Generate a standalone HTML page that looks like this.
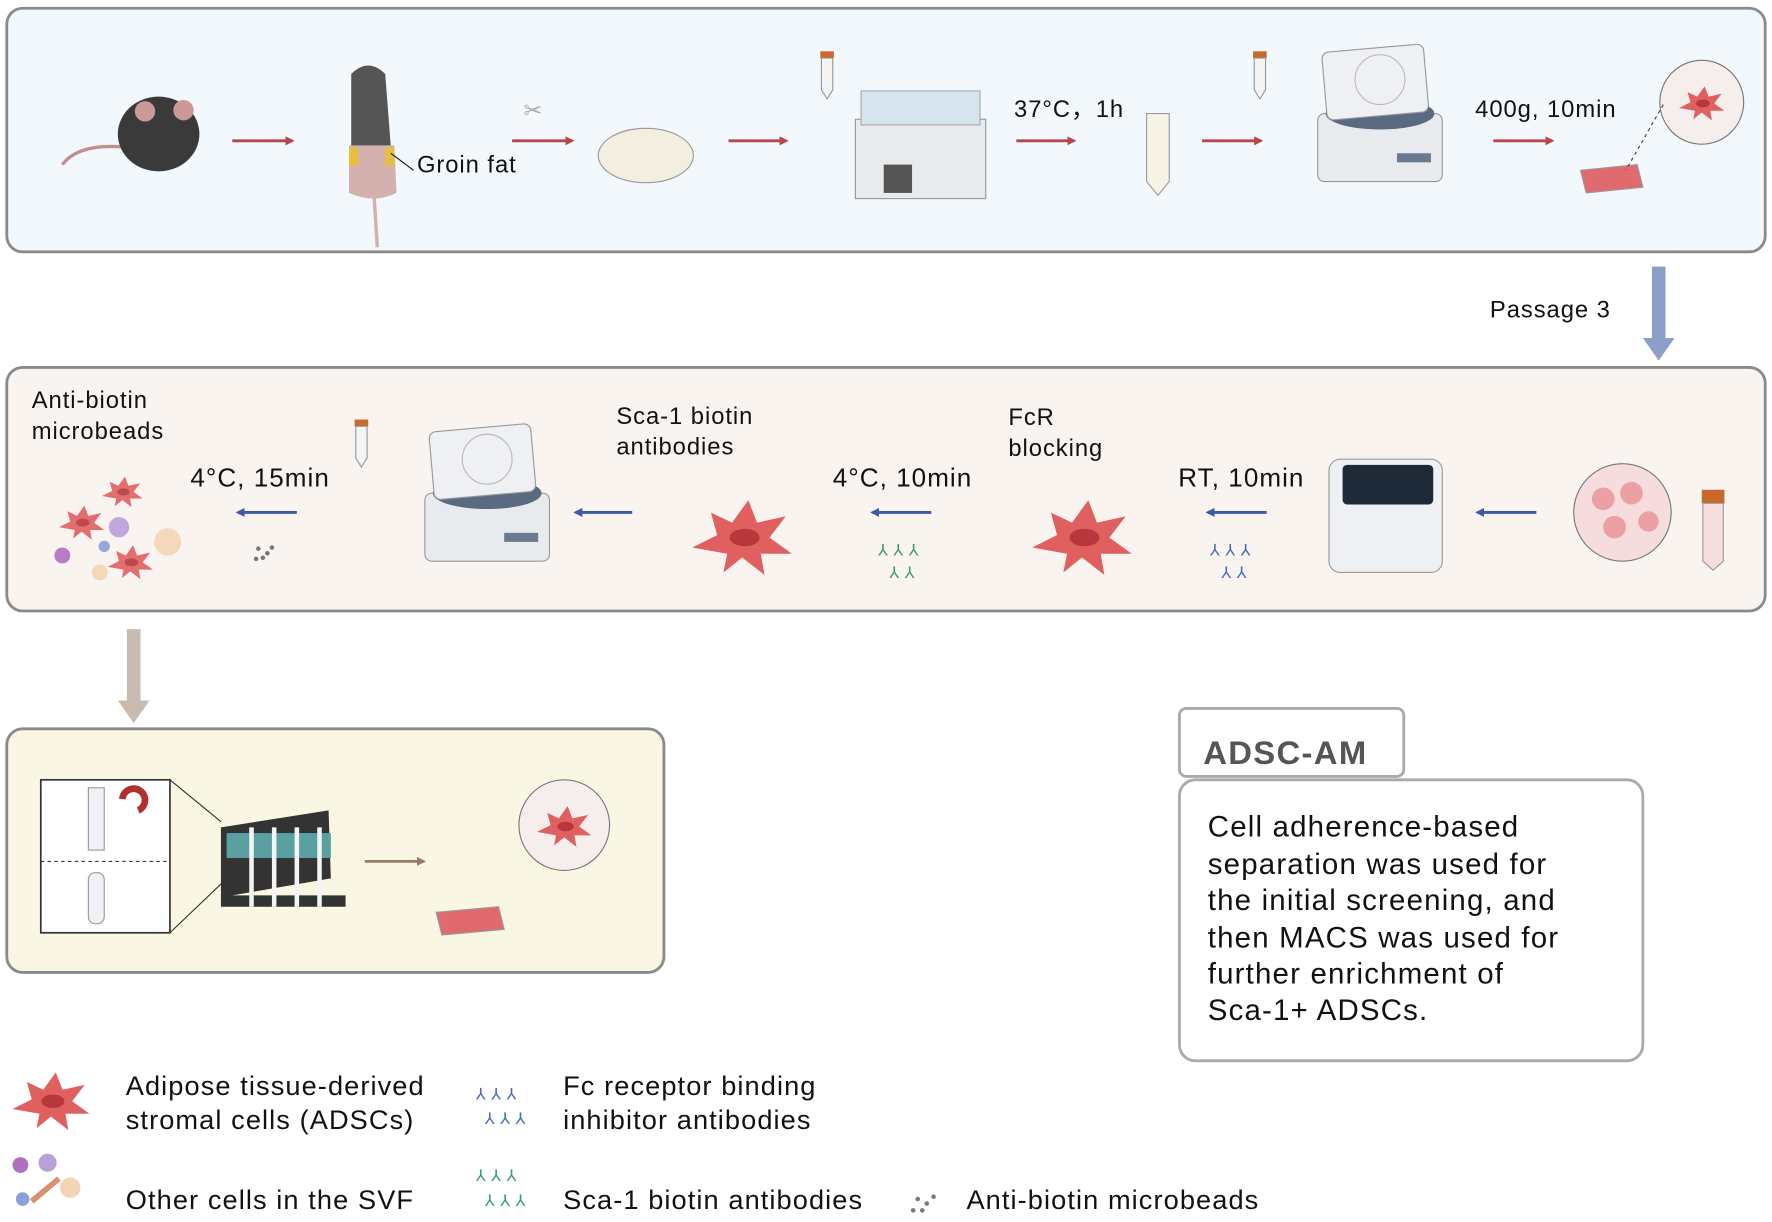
<!DOCTYPE html>
<html><head><meta charset="utf-8"><style>
html,body{margin:0;padding:0;background:#fff;}
svg{display:block;}
text{font-family:"Liberation Sans",sans-serif;fill:#111;letter-spacing:0.04em;}
</style></head><body>
<svg width="1772" height="1222" viewBox="0 0 1564 1078" xmlns="http://www.w3.org/2000/svg">
<defs>
<marker id="ar" markerWidth="8" markerHeight="8" refX="6" refY="4" orient="auto" markerUnits="userSpaceOnUse"><path d="M0,0 L8,4 L0,8z" fill="#b5464a"/></marker>
<marker id="ab" markerWidth="8" markerHeight="8" refX="6" refY="4" orient="auto" markerUnits="userSpaceOnUse"><path d="M0,0 L8,4 L0,8z" fill="#3d5aa8"/></marker>
<marker id="abr" markerWidth="8" markerHeight="8" refX="6" refY="4" orient="auto" markerUnits="userSpaceOnUse"><path d="M0,0 L8,4 L0,8z" fill="#9a7d68"/></marker>
<g id="cell"><path d="M-40,10 L-20,0 L-25,-18 L-8,-10 L5,-28 L12,-10 L35,-15 L22,2 L40,15 L15,15 L18,32 L0,18 L-15,30 L-12,15z" fill="#e0605f"/><ellipse cx="2" cy="2" rx="12" ry="7" fill="#b8373c"/></g>
<g id="cent"><rect x="-55" y="-20" width="110" height="60" rx="6" fill="#e8eaee" stroke="#999"/><ellipse cx="0" cy="-20" rx="48" ry="14" fill="#5a6a80"/><rect x="-45" y="-78" width="90" height="60" rx="6" fill="#eef0f3" stroke="#999" transform="rotate(-5)"/><circle cx="0" cy="-50" r="22" fill="none" stroke="#bbb"/><rect x="15" y="15" width="30" height="8" fill="#6b7a90"/></g>
<g id="tube"><rect x="-6" y="-20" width="12" height="6" fill="#c86a2a"/><path d="M-5,-14 L5,-14 L5,14 L0,22 L-5,14z" fill="#f4f4f4" stroke="#999"/></g>
</defs>

<rect x="6" y="7" width="1552" height="215" rx="14" fill="#f3f8fc" stroke="#8a8a8a" stroke-width="2.5"/>
<path d="M55,145 Q70,125 115,130" stroke="#c09090" stroke-width="3" fill="none"/>
<ellipse cx="140" cy="118" rx="36" ry="33" fill="#3a3a3a"/>
<circle cx="128" cy="98" r="9" fill="#c99"/><circle cx="162" cy="97" r="9" fill="#c99"/>
<line x1="205" y1="124" x2="258" y2="124" stroke="#b5464a" stroke-width="2.5" marker-end="url(#ar)"/>
<path d="M310,65 Q325,50 340,65 L345,130 L310,130z" fill="#555"/>
<path d="M308,128 L348,128 L350,170 Q330,180 308,170z" fill="#d4b0ae"/>
<line x1="330" y1="170" x2="333" y2="218" stroke="#d4b0ae" stroke-width="3"/>
<rect x="308" y="130" width="8" height="16" fill="#e8c040"/><rect x="340" y="130" width="8" height="16" fill="#e8c040"/>
<line x1="345" y1="135" x2="365" y2="150" stroke="#111" stroke-width="1"/>
<text x="368" y="152" font-size="21">Groin fat</text>
<text x="462" y="104" font-size="20" style="fill:#aaa">✂</text>
<line x1="452" y1="124" x2="505" y2="124" stroke="#b5464a" stroke-width="2.5" marker-end="url(#ar)"/>
<ellipse cx="570" cy="137" rx="42" ry="24" fill="#f3eee0" stroke="#999"/>
<line x1="643" y1="124" x2="694" y2="124" stroke="#b5464a" stroke-width="2.5" marker-end="url(#ar)"/>
<use href="#tube" x="730" y="65"/>
<rect x="755" y="105" width="115" height="70" fill="#e8eaee" stroke="#999"/><rect x="760" y="80" width="105" height="30" fill="#d6e4ee" stroke="#aaa"/><rect x="780" y="145" width="25" height="25" fill="#555"/>
<text x="895" y="103" font-size="21">37°C，1h</text>
<line x1="897" y1="124" x2="948" y2="124" stroke="#b5464a" stroke-width="2.5" marker-end="url(#ar)"/>
<path d="M1012,100 L1032,100 L1032,160 L1022,172 L1012,160z" fill="#f7f3e6" stroke="#999"/>
<line x1="1061" y1="124" x2="1113" y2="124" stroke="#b5464a" stroke-width="2.5" marker-end="url(#ar)"/>
<use href="#tube" x="1112" y="65"/>
<use href="#cent" x="1218" y="120"/>
<text x="1302" y="103" font-size="21">400g, 10min</text>
<line x1="1318" y1="124" x2="1370" y2="124" stroke="#b5464a" stroke-width="2.5" marker-end="url(#ar)"/>
<circle cx="1502" cy="90" r="37" fill="#f6eded" stroke="#777"/>
<use href="#cell" transform="translate(1502,90) scale(0.5)" />
<path d="M1395,150 L1445,145 L1450,165 L1400,170z" fill="#e06a6e" stroke="#999"/>
<line x1="1468" y1="92" x2="1435" y2="150" stroke="#444" stroke-dasharray="3,3"/>
<rect x="1458" y="235" width="12" height="65" fill="#8aa0c8"/><path d="M1450,298 L1478,298 L1464,318z" fill="#8aa0c8"/>
<text x="1315" y="280" font-size="21">Passage 3</text>

<rect x="6" y="324" width="1552" height="215" rx="14" fill="#faf4f1" stroke="#8a8a8a" stroke-width="2.5"/>
<text x="28" y="360" font-size="21">Anti-biotin</text><text x="28" y="387" font-size="21">microbeads</text>
<g opacity="0.9"><use href="#cell" transform="translate(72,460) scale(0.5)"/><use href="#cell" transform="translate(115,495) scale(0.5)"/><use href="#cell" transform="translate(108,433) scale(0.45)"/>
<circle cx="105" cy="465" r="9" fill="#b9a0d8"/><circle cx="148" cy="478" r="12" fill="#f3d5b5"/><circle cx="55" cy="490" r="7" fill="#b070c0"/><circle cx="88" cy="505" r="7" fill="#f3d5b5"/><circle cx="92" cy="482" r="5" fill="#8fa0d8"/></g>
<text x="168" y="429" font-size="23">4°C, 15min</text>
<line x1="262" y1="452" x2="210" y2="452" stroke="#3d5aa8" stroke-width="2.5" marker-end="url(#ab)"/>
<g fill="#777"><circle cx="228" cy="484" r="2"/><circle cx="236" cy="488" r="2"/><circle cx="232" cy="492" r="2"/><circle cx="240" cy="483" r="2"/><circle cx="226" cy="493" r="2"/></g>
<use href="#tube" x="319" y="390"/>
<use href="#cent" x="430" y="455"/>
<line x1="558" y1="452" x2="508" y2="452" stroke="#3d5aa8" stroke-width="2.5" marker-end="url(#ab)"/>
<text x="544" y="374" font-size="21">Sca-1 biotin</text><text x="544" y="401" font-size="21">antibodies</text>
<use href="#cell" transform="translate(655,472) scale(1.1)"/>
<text x="735" y="429" font-size="23">4°C, 10min</text>
<line x1="822" y1="452" x2="770" y2="452" stroke="#3d5aa8" stroke-width="2.5" marker-end="url(#ab)"/>
<text x="775" y="490" font-size="14" style="fill:#3a9a70">⅄ ⅄ ⅄</text>
<text x="785" y="510" font-size="14" style="fill:#3a9a70">⅄ ⅄</text>
<text x="890" y="375" font-size="21">FcR</text><text x="890" y="402" font-size="21">blocking</text>
<use href="#cell" transform="translate(955,472) scale(1.1)"/>
<text x="1040" y="429" font-size="23">RT, 10min</text>
<line x1="1118" y1="452" x2="1066" y2="452" stroke="#3d5aa8" stroke-width="2.5" marker-end="url(#ab)"/>
<text x="1068" y="490" font-size="14" style="fill:#4a6ab8">⅄ ⅄ ⅄</text>
<text x="1078" y="510" font-size="14" style="fill:#4a6ab8">⅄ ⅄</text>
<rect x="1173" y="405" width="100" height="100" rx="10" fill="#eef0f4" stroke="#999"/><rect x="1185" y="410" width="80" height="35" rx="4" fill="#1f2a38"/>
<line x1="1356" y1="452" x2="1304" y2="452" stroke="#3d5aa8" stroke-width="2.5" marker-end="url(#ab)"/>
<circle cx="1432" cy="452" r="43" fill="#f6dcdc" stroke="#777"/>
<g fill="#eaa0a4"><circle cx="1415" cy="440" r="10"/><circle cx="1440" cy="435" r="10"/><circle cx="1425" cy="465" r="10"/><circle cx="1455" cy="460" r="9"/></g>
<rect x="1502" y="432" width="20" height="12" fill="#c86a2a"/><path d="M1503,444 L1521,444 L1521,495 L1512,503 L1503,495z" fill="#f4dede" stroke="#999"/>

<rect x="112" y="555" width="12" height="65" fill="#c9bbb0"/><path d="M104,618 L132,618 L118,638z" fill="#c9bbb0"/>

<rect x="6" y="643" width="580" height="215" rx="14" fill="#f9f7e3" stroke="#8a8a8a" stroke-width="2.5"/>
<rect x="36" y="688" width="114" height="135" fill="#fff" stroke="#333" stroke-width="1.5"/>
<line x1="36" y1="760" x2="150" y2="760" stroke="#333" stroke-dasharray="3,3"/>
<rect x="78" y="695" width="14" height="55" fill="#eef2f6" stroke="#999"/><path d="M108,705 a10,10 0 1,1 14,10" stroke="#b03030" stroke-width="6" fill="none"/>
<rect x="78" y="770" width="14" height="45" rx="6" fill="#eef2f6" stroke="#999"/>
<line x1="150" y1="688" x2="195" y2="725" stroke="#333"/><line x1="150" y1="823" x2="195" y2="780" stroke="#333"/>
<path d="M195,730 L290,715 L292,775 L205,790 L305,790 L305,800 L195,800z" fill="#333"/>
<rect x="200" y="735" width="92" height="22" fill="#5aa0a0"/>
<g stroke="#f4f4f4" stroke-width="4"><line x1="222" y1="730" x2="222" y2="800"/><line x1="242" y1="730" x2="242" y2="800"/><line x1="262" y1="730" x2="262" y2="800"/><line x1="282" y1="730" x2="282" y2="800"/></g>
<line x1="322" y1="760" x2="374" y2="760" stroke="#9a7d68" stroke-width="2.5" marker-end="url(#abr)"/>
<circle cx="498" cy="728" r="40" fill="#f6eded" stroke="#777"/>
<use href="#cell" transform="translate(498,728) scale(0.6)"/>
<path d="M385,805 L440,800 L445,820 L390,825z" fill="#e06a6e" stroke="#999"/>

<rect x="1041" y="625" width="198" height="60" rx="6" fill="#fff" stroke="#aaa" stroke-width="2.5"/>
<text x="1062" y="674" font-size="29" font-weight="bold" style="fill:#555">ADSC-AM</text>
<rect x="1041" y="688" width="409" height="248" rx="14" fill="#fff" stroke="#aaa" stroke-width="2.5"/>
<g font-size="26"><text x="1066" y="738">Cell adherence-based</text><text x="1066" y="771">separation was used for</text><text x="1066" y="803">the initial screening, and</text><text x="1066" y="836">then MACS was used for</text><text x="1066" y="868">further enrichment of</text><text x="1066" y="900">Sca-1+ ADSCs.</text></g>

<use href="#cell" transform="translate(45,970) scale(0.85)"/>
<g font-size="24"><text x="111" y="966">Adipose tissue-derived</text><text x="111" y="996">stromal cells (ADSCs)</text>
<text x="497" y="966">Fc receptor binding</text><text x="497" y="996">inhibitor antibodies</text>
<text x="111" y="1067">Other cells in the SVF</text><text x="497" y="1067">Sca-1 biotin antibodies</text><text x="853" y="1067">Anti-biotin microbeads</text></g>
<text x="420" y="970" font-size="14" style="fill:#4a6ab8">⅄ ⅄ ⅄</text><text x="428" y="992" font-size="14" style="fill:#4a6ab8">⅄ ⅄ ⅄</text>
<text x="420" y="1042" font-size="14" style="fill:#3a9a70">⅄ ⅄ ⅄</text><text x="428" y="1064" font-size="14" style="fill:#3a9a70">⅄ ⅄ ⅄</text>
<circle cx="18" cy="1028" r="7" fill="#b070c0"/><circle cx="42" cy="1026" r="8" fill="#b9a0d8"/><circle cx="62" cy="1048" r="9" fill="#f3d5b5"/><circle cx="20" cy="1058" r="6" fill="#8fa0d8"/><path d="M28,1060 L52,1040" stroke="#d89070" stroke-width="5"/>
<g fill="#777"><circle cx="810" cy="1058" r="2"/><circle cx="818" cy="1062" r="2"/><circle cx="814" cy="1068" r="2"/><circle cx="824" cy="1056" r="2"/><circle cx="806" cy="1068" r="2"/></g>
</svg>
</body></html>
